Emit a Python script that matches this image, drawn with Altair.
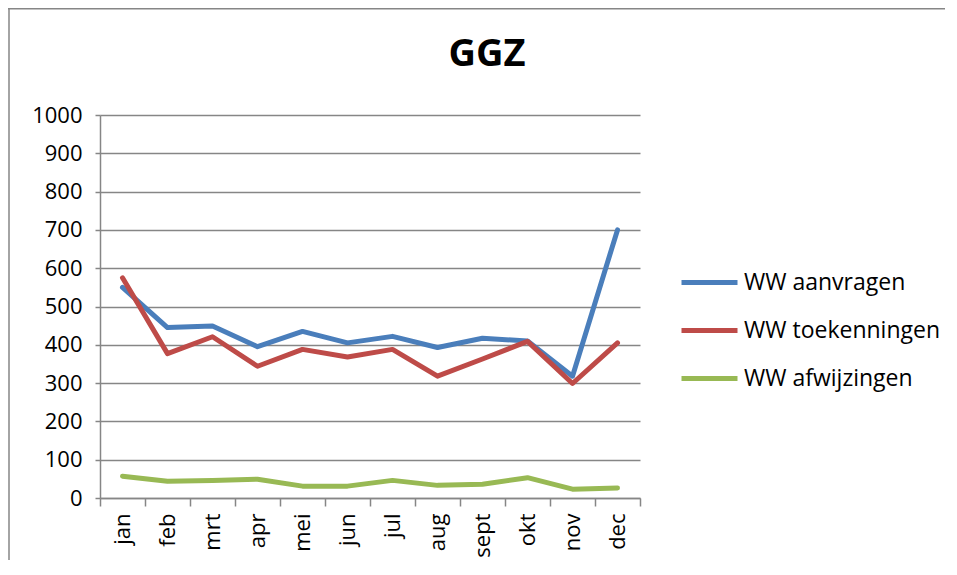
import altair as alt
import pandas as pd

months = ["jan", "feb", "mrt", "apr", "mei", "jun", "jul", "aug", "sept", "okt", "nov", "dec"]
aanvragen = [550, 445, 449, 395, 435, 405, 422, 393, 417, 410, 318, 700]
toekenningen = [575, 377, 421, 344, 388, 368, 388, 318, 363, 409, 299, 405]
afwijzingen = [57, 44, 46, 49, 31, 31, 46, 33, 36, 53, 23, 26]
series = ["WW aanvragen", "WW toekenningen", "WW afwijzingen"]
colors = ["#4A7EBB", "#BE4B48", "#98B954"]
y_ticks = [0, 100, 200, 300, 400, 500, 600, 700, 800, 900, 1000]
title_text = "GGZ"

rows = []
for name, vals in zip(series, [aanvragen, toekenningen, afwijzingen]):
    for m, v in zip(months, vals):
        rows.append({"maand": m, "waarde": v, "reeks": name})
df = pd.DataFrame(rows)

FONT = "Open Sans"

lines = alt.Chart(df).mark_line(strokeWidth=5, strokeJoin="round", strokeCap="round").encode(
    x=alt.X("maand:N", sort=months, bandPosition=0.5,
            scale=alt.Scale(type="band", paddingInner=0, paddingOuter=0),
            axis=alt.Axis(title=None, labelAngle=-90, labelFontSize=22, labelFont=FONT,
                          labelColor="#000000", tickBand="extent", tickSize=8,
                          tickColor="#868686", tickWidth=1.5, domainColor="#868686",
                          domainWidth=1.5, labelPadding=7, grid=False)),
    y=alt.Y("waarde:Q", scale=alt.Scale(domain=[0, 1000], nice=False),
            axis=alt.Axis(title=None, values=y_ticks, format="d", labelFontSize=22, labelFont=FONT,
                          labelColor="#000000", tickSize=5, tickColor="#868686", tickWidth=1.5,
                          domainColor="#868686", domainWidth=1.5, gridColor="#868686",
                          gridWidth=1.5, gridOpacity=1, labelPadding=13)),
    color=alt.Color("reeks:N", sort=series,
                    scale=alt.Scale(domain=series, range=colors),
                    legend=alt.Legend(title=None, orient="none", legendX=579, legendY=137,
                                      symbolType="stroke", symbolSize=3136, symbolStrokeWidth=5,
                                      labelFontSize=23, labelFont=FONT, labelColor="#000000",
                                      labelLimit=400, rowPadding=5, labelOffset=4)),
    order=alt.Order("reeks:N"),
)

one = pd.DataFrame({"a": [0]})
border_left = alt.Chart(one).mark_rule(stroke="#868686", strokeWidth=1.5, clip=False).encode(
    x=alt.value(-91), y=alt.value(-106), y2=alt.value(1000))
border_top = alt.Chart(one).mark_rect(fill="#868686", strokeWidth=0, clip=False).encode(
    x=alt.value(-92), x2=alt.value(845), y=alt.value(-107), y2=alt.value(-105.5))

title = alt.Chart(pd.DataFrame({"t": [title_text]})).mark_text(
    fontSize=38, font=FONT, fontWeight="bold", color="#000000", align="center", baseline="middle"
).encode(text="t:N", x=alt.value(387), y=alt.value(-60))

chart = alt.layer(border_left, border_top, lines, title).properties(
    width=540, height=383,
    autosize=alt.AutoSizeParams(type="none"),
    padding={"left": 92, "top": 107, "right": 309, "bottom": 62},
).configure_view(stroke=None)

chart.save("out.html", embed_options={"renderer": "svg", "actions": False})
